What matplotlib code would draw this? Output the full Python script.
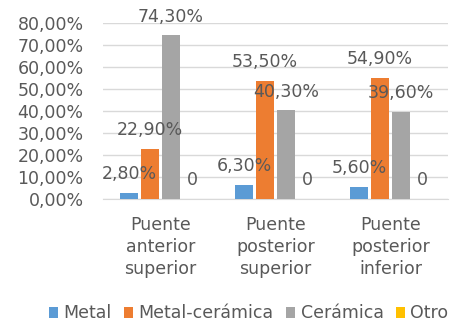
import numpy as np
import matplotlib.pyplot as plt

# Datos
categorias = ['Puente\nanterior\nsuperior', 'Puente\nposterior\nsuperior', 'Puente\nposterior\ninferior']
series = ['Metal', 'Metal-cerámica', 'Cerámica', 'Otro']
metal = [2.8, 6.3, 5.6]
metal_ceramica = [22.9, 53.5, 54.9]
ceramica = [74.3, 40.3, 39.6]
otro = [0, 0, 0]
colores = ['#5B9BD5', '#ED7D31', '#A5A5A5', '#FFC000']

valores = [metal, metal_ceramica, ceramica, otro]
texto = '#595959'
fs = 12.5

fig = plt.figure(figsize=(4.52, 3.22), dpi=100)
ax = fig.add_axes([0.228, 0.382, 0.763, 0.547])

x = np.arange(len(categorias))
paso = 0.183
ancho = 0.15
for i, (nombre, vals, col) in enumerate(zip(series, valores, colores)):
    pos = x + (i - 1.5) * paso
    ax.bar(pos, vals, width=ancho, color=col, label=nombre, zorder=3)
    for p, v in zip(pos, vals):
        etiqueta = '0' if v == 0 else f'{v:.2f}%'.replace('.', ',')
        ax.annotate(etiqueta, (p, v), xytext=(0, 7), textcoords='offset points',
                    ha='center', va='bottom', fontsize=fs, color=texto, zorder=4)

ax.set_xlim(-0.5, 2.5)
ax.set_ylim(0, 80)
ax.set_yticks(np.arange(0, 81, 10))
ax.set_yticklabels([f'{t:.2f}%'.replace('.', ',') for t in np.arange(0, 81, 10)],
                   fontsize=fs, color=texto)
ax.set_xticks(x)
ax.set_xticklabels(categorias, fontsize=fs, color=texto, linespacing=1.3)
ax.tick_params(axis='both', length=0)
ax.tick_params(axis='x', pad=12)
ax.tick_params(axis='y', pad=14)
ax.grid(axis='y', color='#D9D9D9', linewidth=1, zorder=0)
for s in ['top', 'right', 'left']:
    ax.spines[s].set_visible(False)
ax.spines['bottom'].set_color('#D9D9D9')

fig.legend(loc='lower center', bbox_to_anchor=(0.55, -0.05), ncol=4, frameon=False,
           fontsize=fs, labelcolor=texto, handlelength=0.55, handleheight=0.55,
           handletextpad=0.3, columnspacing=0.7)

fig.savefig('out.png', dpi=100)
